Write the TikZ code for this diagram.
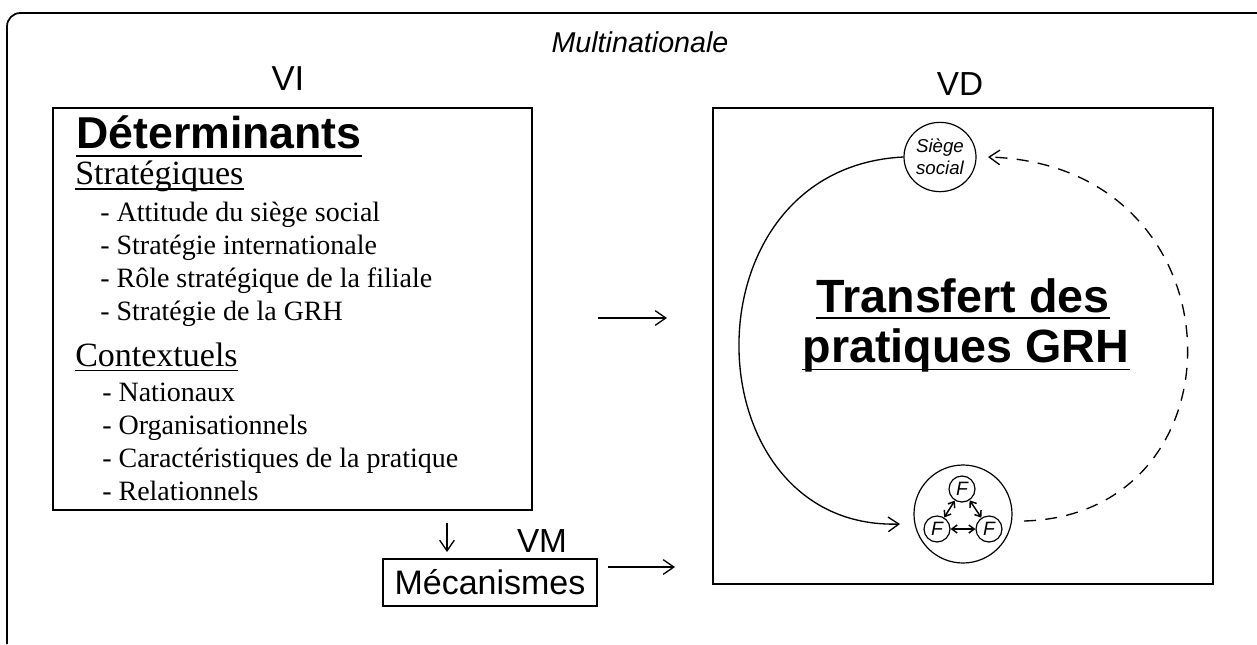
\documentclass[tikz,border=0pt]{standalone}
\usepackage{fontspec}
\setmainfont{Liberation Serif}
\newfontfamily\arial{Liberation Sans}
\usetikzlibrary{arrows.meta,shapes.geometric}
\begin{document}
\begin{tikzpicture}[x=0.75pt,y=-0.75pt,
  frame/.style={line width=1.3pt},
  box/.style={draw,line width=1.3pt,inner sep=0pt},
  txt/.style={inner sep=0pt,anchor=base},
  wtxt/.style={inner sep=0pt,anchor=base west},
  itemtxt/.style={wtxt,font=\fontsize{21}{24}\selectfont},
  subtxt/.style={wtxt,font=\fontsize{25.5}{28}\selectfont},
  vlabel/.style={txt,font=\arial\fontsize{25}{28}\selectfont},
  uline/.style={line width=1.2pt},
  arr/.style={-{Straight Barb[length=8pt,width=11pt]},line width=1pt},
  smallarr/.style={{Straight Barb[length=4pt,width=6pt]}-{Straight Barb[length=4pt,width=6pt]},line width=1.1pt},
  fcirc/.style={draw,circle,line width=0.9pt,inner sep=0pt,minimum size=19.5pt,font=\arial\itshape\fontsize{14.5}{16}\selectfont}
]
\useasboundingbox (0,0) rectangle (1257,644);
% outer frame
\draw[frame,rounded corners=10pt] (7,644) -- (7,13) -- (1257,13);
\node[txt,font=\arial\itshape\fontsize{21.5}{24}\selectfont] (multi) at (640,52) {Multinationale};

% left box
\node[txt,font=\arial\fontsize{26}{28}\selectfont] (vi) at (288,90) {VI};
\node[box,minimum width=359.25pt,minimum height=301.5pt] (detbox) at (292.5,309) {};
\node[wtxt,font=\arial\bfseries\fontsize{33.5}{36}\selectfont] (det) at (76,148) {Déterminants};
\draw[uline] ([yshift=-6pt]det.base west) -- ([yshift=-6pt]det.base east);
\node[subtxt] (strat) at (75,184) {Stratégiques};
\draw[uline,line width=0.9pt] ([yshift=-3.8pt]strat.base west) -- ([yshift=-3.8pt]strat.base east);
\node[itemtxt] (s1) at (100,221) {- Attitude du siège social};
\node[itemtxt] (s2) at (100,254) {- Stratégie internationale};
\node[itemtxt] (s3) at (100,287) {- Rôle stratégique de la filiale};
\node[itemtxt] (s4) at (100,320) {- Stratégie de la GRH};
\node[subtxt] (cont) at (75,366) {Contextuels};
\draw[uline,line width=0.9pt] ([yshift=-3.2pt]cont.base west) -- ([yshift=-3.2pt]cont.base east);
\node[itemtxt] (c1) at (102,401) {- Nationaux};
\node[itemtxt] (c2) at (102,434) {- Organisationnels};
\node[itemtxt] (c3) at (102,467) {- Caractéristiques de la pratique};
\node[itemtxt] (c4) at (102,500) {- Relationnels};

% middle arrows
\coordinate (m1) at (598,318);
\coordinate (m2) at (667,318);
\draw[arr] (m1) -- (m2);
\coordinate (d1) at (447,523);
\coordinate (d2) at (447,552);
\draw[arr] (d1) -- (d2);
\node[vlabel] (vm) at (542,552) {VM};
\node[box,minimum width=160.5pt,minimum height=35.25pt,font=\arial\fontsize{25.5}{28}\selectfont] (mech) at (490,582.5) {Mécanismes};
\coordinate (e1) at (608,567);
\coordinate (e2) at (675,567);
\draw[arr] (e1) -- (e2);

% right box
\node[vlabel] (vd) at (960,95) {VD};
\node[box,minimum width=375pt,minimum height=357pt] (vdbox) at (963,346) {};
\node[txt,font=\arial\bfseries\fontsize{35}{38}\selectfont] (t1) at (963,312) {Transfert des};
\draw[uline] ([yshift=-4.5pt]t1.base west) -- ([yshift=-4.5pt]t1.base east);
\node[txt,font=\arial\bfseries\fontsize{35}{38}\selectfont] (t2) at (966,362) {pratiques GRH};
\draw[uline] ([yshift=-5.5pt]t2.base west) -- ([yshift=-5.5pt]t2.base east);

\node[draw,ellipse,line width=0.9pt,inner sep=0pt,minimum width=54pt,minimum height=52pt,align=center,font=\arial\itshape\fontsize{14}{16.5}\selectfont] (siege) at (940,157) {Siège\\social};

\node[draw,circle,line width=0.9pt,inner sep=0pt,minimum size=73.5pt] (fgroup) at (963,514) {};
\node[fcirc] (f1) at (962,489) {F};
\node[fcirc] (f2) at (937,529) {F};
\node[fcirc] (f3) at (989,529) {F};
\draw[smallarr] (f1) -- (f2);
\draw[smallarr] (f1) -- (f3);
\draw[smallarr] (f2) -- (f3);

\coordinate (solidend) at (900,524);
\draw[arr] (siege.west) .. controls (680,168) and (690,530) .. (solidend);
\coordinate (dashstart) at (1024,521);
\coordinate (dashend) at (988,157);
\draw[arr,dash pattern=on 9pt off 7pt] (dashstart) .. controls (1250,515) and (1245,165) .. (dashend);
\end{tikzpicture}
\end{document}
